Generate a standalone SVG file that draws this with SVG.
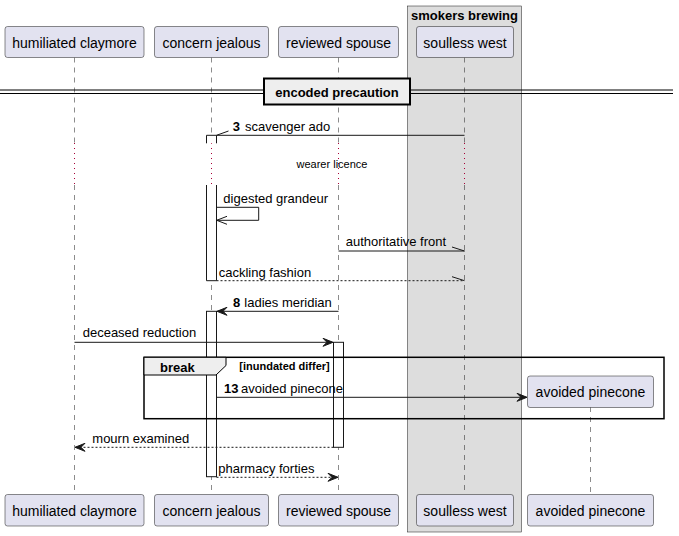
<svg xmlns="http://www.w3.org/2000/svg" width="679" height="536" viewBox="0 0 679 536">
<defs>
<style>
.part{fill:#E2E2F0;stroke:#181818;stroke-width:0.5}
.pt{font-family:"Liberation Sans",Arial,sans-serif;font-size:14px;fill:#000;text-anchor:middle}
.life{stroke:#181818;stroke-width:0.5;stroke-dasharray:5,5;fill:none}
.delay{stroke:#A80036;stroke-width:1;stroke-dasharray:1,4;fill:none}
.act{fill:#FFFFFF;stroke:#181818;stroke-width:1}
.msg{stroke:#181818;stroke-width:1;fill:none}
.dash{stroke:#181818;stroke-width:1;fill:none;stroke-dasharray:2,2}
.mt{font-family:"Liberation Sans",Arial,sans-serif;font-size:13px;fill:#000}
.b{font-weight:bold}
.ah{fill:#181818;stroke:#181818;stroke-width:1}
</style>
</defs>
<rect x="407.5" y="6" width="114" height="526" fill="#DDDDDD" stroke="#181818" stroke-width="0.5"/>
<text x="464.5" y="20" class="mt b" text-anchor="middle">smokers brewing</text>
<g id="lifelines">
<line class="life" x1="74.5" y1="57.5" x2="74.5" y2="143"/>
<line class="delay" x1="74.5" y1="143" x2="74.5" y2="185"/>
<line class="life" x1="74.5" y1="185" x2="74.5" y2="494"/>
<line class="life" x1="211.5" y1="57.5" x2="211.5" y2="143"/>
<line class="delay" x1="211.5" y1="143" x2="211.5" y2="185"/>
<line class="life" x1="211.5" y1="185" x2="211.5" y2="494"/>
<line class="life" x1="338.5" y1="57.5" x2="338.5" y2="143"/>
<line class="delay" x1="338.5" y1="143" x2="338.5" y2="185"/>
<line class="life" x1="338.5" y1="185" x2="338.5" y2="494"/>
<line class="life" x1="464.5" y1="57.5" x2="464.5" y2="143"/>
<line class="delay" x1="464.5" y1="143" x2="464.5" y2="185"/>
<line class="life" x1="464.5" y1="185" x2="464.5" y2="494"/>
<line class="life" x1="590.5" y1="407" x2="590.5" y2="494"/>
</g>
<g id="p-claymore"><rect class="part" x="5" y="26.5" width="139" height="31" rx="2.5"/><text class="pt" x="74.5" y="47.5">humiliated claymore</text></g>
<g id="p-concern"><rect class="part" x="154.5" y="26.5" width="114" height="31" rx="2.5"/><text class="pt" x="211.5" y="47.5">concern jealous</text></g>
<g id="p-reviewed"><rect class="part" x="278.5" y="26.5" width="120" height="31" rx="2.5"/><text class="pt" x="338.5" y="47.5">reviewed spouse</text></g>
<g id="p-soulless"><rect class="part" x="416.5" y="26.5" width="97" height="31" rx="2.5"/><text class="pt" x="465" y="47.5">soulless west</text></g>
<g id="p-claymore-b"><rect class="part" x="5" y="494.5" width="139" height="31.5" rx="2.5"/><text class="pt" x="74.5" y="515.5">humiliated claymore</text></g>
<g id="p-concern-b"><rect class="part" x="154.5" y="494.5" width="114" height="31.5" rx="2.5"/><text class="pt" x="211.5" y="515.5">concern jealous</text></g>
<g id="p-reviewed-b"><rect class="part" x="278.5" y="494.5" width="120" height="31.5" rx="2.5"/><text class="pt" x="338.5" y="515.5">reviewed spouse</text></g>
<g id="p-soulless-b"><rect class="part" x="416.5" y="494.5" width="97" height="31.5" rx="2.5"/><text class="pt" x="465" y="515.5">soulless west</text></g>
<g id="p-pinecone"><rect class="part" x="527.5" y="376" width="126" height="31.5" rx="2.5"/><text class="pt" x="590.5" y="397">avoided pinecone</text></g>
<g id="p-pinecone-b"><rect class="part" x="527.5" y="494.5" width="126" height="31.5" rx="2.5"/><text class="pt" x="590.5" y="515.5">avoided pinecone</text></g>
<g id="divider">
<line x1="0" y1="90" x2="673" y2="90" stroke="#000" stroke-width="1"/>
<line x1="0" y1="93.5" x2="673" y2="93.5" stroke="#000" stroke-width="1"/>
<rect x="264" y="78.5" width="146" height="26" fill="#EEEEEE" stroke="#000" stroke-width="2"/>
<text x="337" y="97" class="mt b" text-anchor="middle">encoded precaution</text>
</g>
<g id="activations">
<path d="M206.5,143.3 V135.3 H216.5 V143.3" class="act"/>
<rect x="206.5" y="185" width="10" height="95.7" fill="#FFFFFF" stroke="none"/>
<path d="M206.5,185 V280.7 H216.5 V185" class="act"/>
<rect class="act" x="206.5" y="311.3" width="10" height="165.4"/>
<rect class="act" x="333.5" y="342.3" width="10" height="105"/>
</g>
<g id="connectors">
<line class="msg" x1="216.5" y1="135.3" x2="464.5" y2="135.3"/>
<line class="msg" x1="216.5" y1="135.3" x2="228.5" y2="131"/>
<text class="mt" x="232.7" y="131"><tspan class="b">3</tspan><tspan x="245">scavenger ado</tspan></text>
<text x="332" y="168" font-family="Liberation Sans, Arial, sans-serif" font-size="11" text-anchor="middle">wearer licence</text>
<polyline class="msg" points="216.5,207.3 258.7,207.3 258.7,220.3 216.5,220.3"/>
<polyline class="msg" points="227,216.3 216.7,220.3 227,224.3"/>
<text class="mt" x="223.3" y="203">digested grandeur</text>
<line class="msg" x1="338.5" y1="251" x2="464.5" y2="251"/>
<line class="msg" x1="452" y1="247" x2="464.5" y2="251"/>
<text class="mt" x="345.7" y="246">authoritative front</text>
<line class="dash" x1="216.5" y1="280.7" x2="464.5" y2="280.7"/>
<line class="msg" x1="452" y1="276.7" x2="464.5" y2="280.7"/>
<text class="mt" x="218.7" y="277">cackling fashion</text>
<line class="msg" x1="338.5" y1="311.3" x2="217" y2="311.3"/>
<polygon class="ah" points="217,311.3 227,307.3 223,311.3 227,315.3"/>
<text class="mt" x="233" y="306.7"><tspan class="b">8</tspan><tspan x="244.3">ladies meridian</tspan></text>
<line class="msg" x1="74.5" y1="342.3" x2="332.5" y2="342.3"/>
<polygon class="ah" points="333,342.3 323,338.3 327,342.3 323,346.3"/>
<text class="mt" x="82.7" y="337">deceased reduction</text>
<line class="msg" x1="216.5" y1="397.3" x2="526.5" y2="397.3"/>
<polygon class="ah" points="527,397.3 517,393.3 521,397.3 517,401.3"/>
<text class="mt" x="224" y="393.3"><tspan class="b">13</tspan><tspan x="241">avoided pinecone</tspan></text>
<line class="dash" x1="333.5" y1="447.3" x2="75" y2="447.3"/>
<polygon class="ah" points="75,447.3 85,443.3 81,447.3 85,451.3"/>
<text class="mt" x="92.3" y="442.7">mourn examined</text>
<line class="dash" x1="216.5" y1="477.3" x2="337.5" y2="477.3"/>
<polygon class="ah" points="338,477.3 328,473.3 332,477.3 328,481.3"/>
<text class="mt" x="218.3" y="472.7">pharmacy forties</text>
</g>
<g id="break-frame">
<rect x="144" y="357.3" width="520" height="61.4" fill="none" stroke="#000" stroke-width="1.5"/>
<path d="M144,357.3 H226 V365.5 L216,375 H144 Z" fill="#EEEEEE" stroke="#000" stroke-width="1"/>
<text class="mt b" x="160" y="371.7">break</text>
<text x="239.3" y="370" font-family="Liberation Sans, Arial, sans-serif" font-size="11" font-weight="bold">[inundated differ]</text>
</g>
</svg>
